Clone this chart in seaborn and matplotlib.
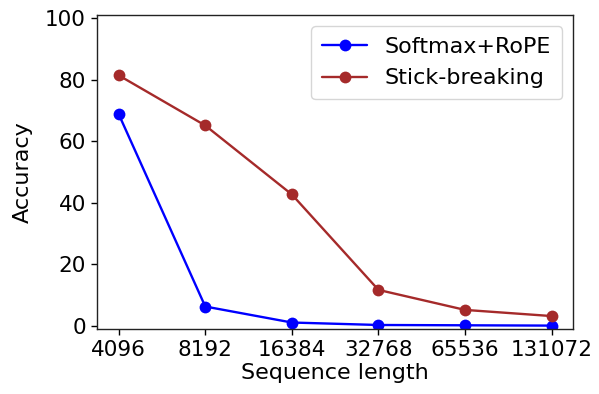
import matplotlib
matplotlib.use("Agg")
import matplotlib.pyplot as plt
import seaborn as sns
import pandas as pd
from matplotlib.ticker import NullLocator, FixedLocator, FixedFormatter

seq_lengths = [4096, 8192, 16384, 32768, 65536, 131072]
softmax_rope = [68.8, 6.3, 1.1, 0.3, 0.2, 0.1]
stick_breaking = [81.4, 65.1, 42.7, 11.7, 5.2, 3.2]
series_names = ["Softmax+RoPE", "Stick-breaking"]
tick_labels = [str(v) for v in seq_lengths]

df = pd.DataFrame({
    "Sequence length": seq_lengths * 2,
    "Accuracy": softmax_rope + stick_breaking,
    "Method": [series_names[0]] * len(seq_lengths) + [series_names[1]] * len(seq_lengths),
})

sns.set_style("ticks")
plt.rcParams.update({
    "font.family": ["DejaVu Sans"],
    "text.color": "black",
    "axes.labelcolor": "black",
    "xtick.color": "black",
    "ytick.color": "black",
    "axes.edgecolor": "#222222",
})

fig = plt.figure(figsize=(5.99, 3.94), dpi=100)
ax = fig.add_axes([0.162, 0.165, 0.795, 0.797])

sns.lineplot(data=df, x="Sequence length", y="Accuracy", hue="Method",
             palette={series_names[0]: "blue", series_names[1]: "brown"},
             marker="o", markersize=8.5, markeredgewidth=0, linewidth=1.7,
             ax=ax)

ax.set_xscale("log", base=2)
ax.xaxis.set_major_locator(FixedLocator(seq_lengths))
ax.xaxis.set_major_formatter(FixedFormatter(tick_labels))
ax.xaxis.set_minor_locator(NullLocator())
ax.set_ylim(-1, 101)
ax.set_yticks([0, 20, 40, 60, 80, 100])
ax.tick_params(labelsize=15.5, length=4.5, width=1.0)
ax.set_xlabel("Sequence length", fontsize=16, labelpad=2)
ax.set_ylabel("Accuracy", fontsize=16, labelpad=9)
for s in ax.spines.values():
    s.set_linewidth(1.0)

leg = ax.legend(loc="upper right", fontsize=16, title=None, frameon=True,
                borderpad=0.5)
leg.get_frame().set_edgecolor("#cccccc")

fig.savefig("out.png", dpi=100)
